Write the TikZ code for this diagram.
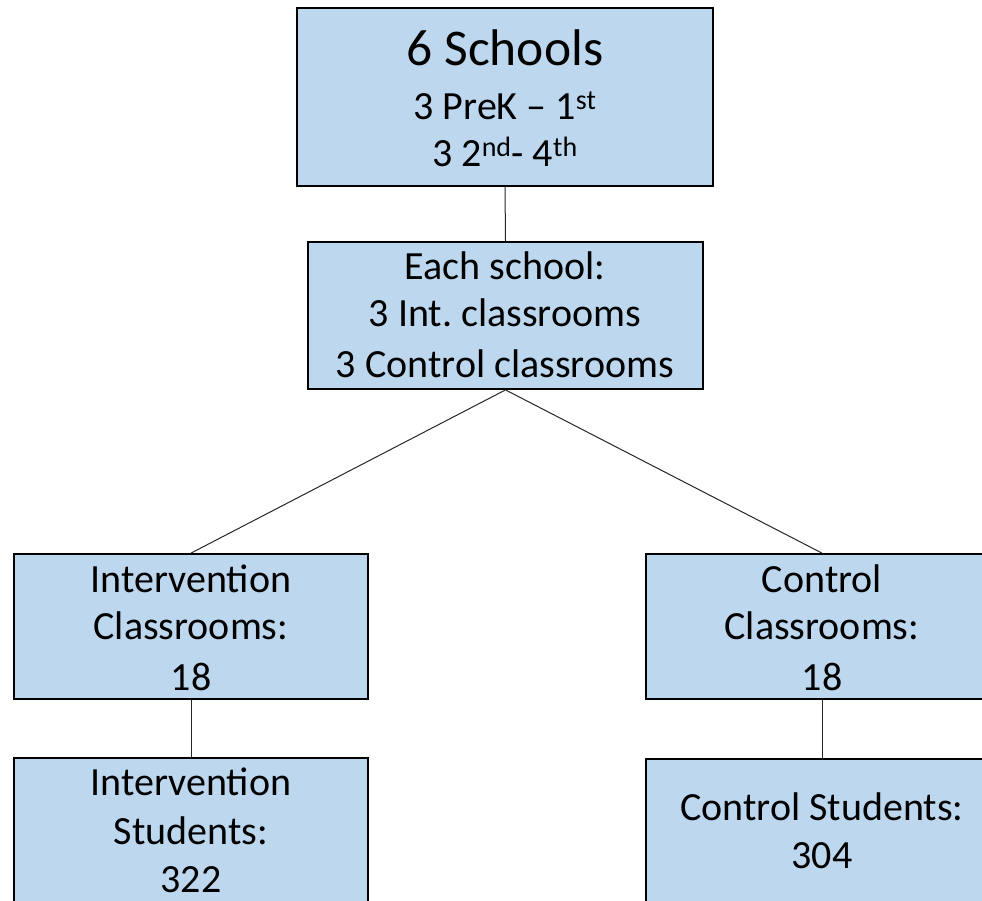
\documentclass[tikz,border=0pt]{standalone}
\usepackage{fontspec}
\setmainfont{Carlito}
\frenchspacing
\definecolor{boxfill}{RGB}{189,215,238}
\tikzset{
  box/.style={draw=black, line width=1.8pt, fill=boxfill, rectangle, inner sep=0pt},
  link/.style={draw=black!85, line width=1pt},
  big/.style={font=\fontsize{51.5}{51.5}\selectfont, anchor=base, inner sep=0pt},
  mid/.style={font=\fontsize{40}{40}\selectfont, anchor=base, inner sep=0pt},
}
\begin{document}
\begin{tikzpicture}[x=1pt,y=-1pt]
\useasboundingbox (0,0) rectangle (982,900);
\clip (0,0) rectangle (982,900);

% boxes
\node[box, minimum width=416pt, minimum height=178pt] (schools) at (505,97) {};
\node[box, minimum width=395pt, minimum height=147pt] (each) at (505.5,315.5) {};
\node[box, minimum width=354pt, minimum height=145pt] (intc) at (191,626.5) {};
\node[box, minimum width=352pt, minimum height=145pt] (ctlc) at (822,626.5) {};
\node[box, minimum width=354pt, minimum height=145pt] (ints) at (191,830.5) {};
\node[box, minimum width=352pt, minimum height=145pt] (ctls) at (822,831.5) {};

% connectors
\draw[link] (schools.south) -- (each.north);
\draw[link] (each.south) -- (intc.north);
\draw[link] (each.south) -- (ctlc.north);
\draw[link] (intc.south) -- (ints.north);
\draw[link] (ctlc.south) -- (ctls.north);

% labels
\node[big] (t1) at (505,65) {6 Schools};
\node[mid] (t2) at (505,119) {3 PreK – 1\textsuperscript{st}};
\node[mid] (t3) at (505,166) {3 2\textsuperscript{nd}- 4\textsuperscript{th}};

\node[mid] (e1) at (505,279) {Each school:};
\node[mid] (e2) at (505,326) {3 Int.\ classrooms};
\node[mid] (e3) at (505,377) {3 Control classrooms};

\node[mid] (i1) at (191,592) {Intervention};
\node[mid] (i2) at (191,639) {Classrooms:};
\node[mid] (i3) at (191,690) {18};

\node[mid] (c1) at (822,592) {Control};
\node[mid] (c2) at (822,639) {Classrooms:};
\node[mid] (c3) at (822,690) {18};

\node[mid] (s1) at (191,795) {Intervention};
\node[mid] (s2) at (191,844) {Students:};
\node[mid] (s3) at (191,892) {322};

\node[mid] (d1) at (822,820) {Control Students:};
\node[mid] (d2) at (822,868) {304};
\end{tikzpicture}
\end{document}
